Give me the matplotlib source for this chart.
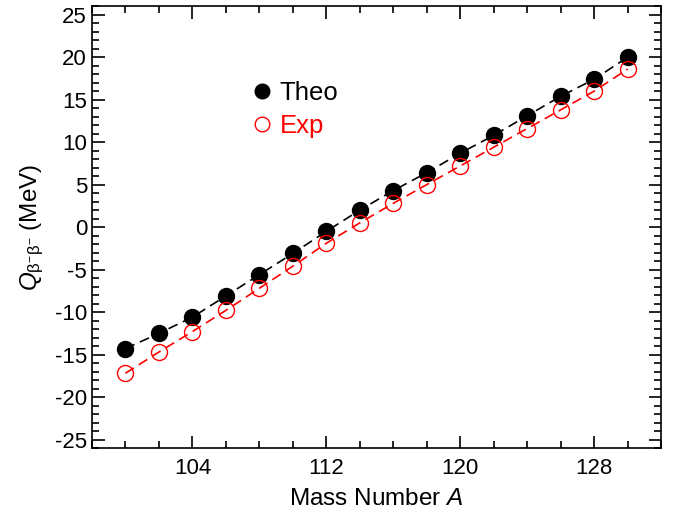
import matplotlib
matplotlib.use("Agg")
import matplotlib.pyplot as plt
from matplotlib.lines import Line2D
from matplotlib.ticker import MultipleLocator

plt.rcParams['font.family'] = ['Liberation Sans', 'DejaVu Sans']
plt.rcParams['mathtext.fontset'] = 'custom'
plt.rcParams['mathtext.rm'] = 'Liberation Sans'
plt.rcParams['mathtext.it'] = 'Liberation Sans:italic'
plt.rcParams['axes.unicode_minus'] = False

# mass numbers and Q values (MeV)
mass = [100, 102, 104, 106, 108, 110, 112, 114, 116, 118, 120, 122, 124, 126, 128, 130]
q_theo = [-14.3, -12.5, -10.6, -8.1, -5.6, -3.1, -0.5, 2.0, 4.3, 6.4, 8.7, 10.8, 13.1, 15.4, 17.4, 20.0]
q_exp = [-17.2, -14.7, -12.3, -9.8, -7.2, -4.6, -1.9, 0.5, 2.8, 5.0, 7.2, 9.4, 11.6, 13.8, 16.0, 18.6]

fig = plt.figure(figsize=(6.76, 5.15), dpi=100)
ax = fig.add_axes([0.136, 0.130, 0.842, 0.858])

ax.plot(mass, q_theo, color='black', ls=(0, (6, 3.5)), lw=1.2,
        marker='o', ms=11.5, mfc='black', mec='black')
ax.plot(mass, q_exp, color='red', ls=(0, (6, 3.5)), lw=1.2,
        marker='o', ms=11.5, mfc='none', mec='red', mew=1.0)

ax.set_xlim(98, 132)
ax.set_ylim(-26, 26)
ax.xaxis.set_minor_locator(MultipleLocator(2))
ax.yaxis.set_major_locator(MultipleLocator(5))
ax.yaxis.set_minor_locator(MultipleLocator(1))
ax.set_xticks([104, 112, 120, 128])
ax.tick_params(which='both', direction='in', top=True, right=True, labelsize=16, width=1.2)
ax.tick_params(which='major', length=9)
ax.tick_params(which='minor', length=5)
ax.tick_params(axis='x', pad=7)
for s in ax.spines.values():
    s.set_linewidth(1.2)

ax.set_xlabel('Mass Number $\\mathit{A}$', fontsize=17.5, labelpad=7)
ax.set_ylabel('$\\mathit{Q}_{\\mathrm{β}^{-}\\mathrm{β}^{-}}$ (MeV)', fontsize=17.5, labelpad=6)

handles = [Line2D([], [], ls='none', marker='o', ms=10.5, mfc='black', mec='black'),
           Line2D([], [], ls='none', marker='o', ms=10.5, mfc='none', mec='red')]
ax.legend(handles, ['Theo', 'Exp'], loc='upper left', bbox_to_anchor=(0.276, 0.831),
          frameon=False, fontsize=18.5, labelcolor=['black', 'red'],
          handlelength=1.0, handletextpad=0.2, labelspacing=0.36,
          borderpad=0, borderaxespad=0)

fig.savefig('out.png', dpi=100)
